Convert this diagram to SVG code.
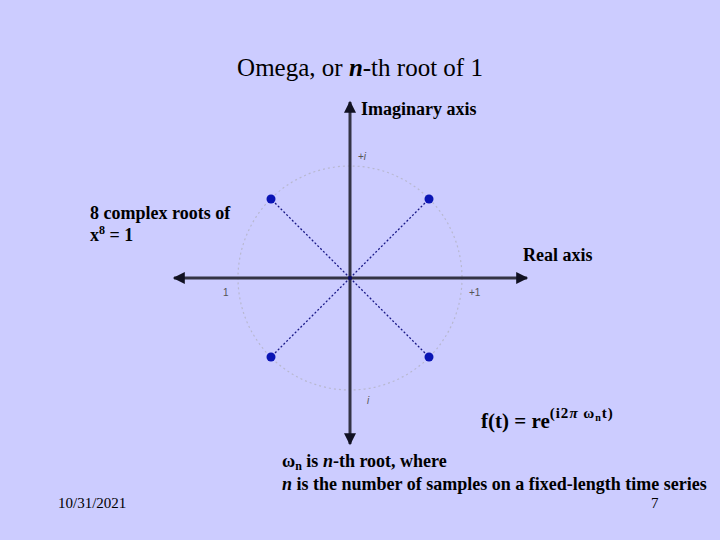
<svg xmlns="http://www.w3.org/2000/svg" width="720" height="540" viewBox="0 0 720 540">
<defs>
<style>
.b{font-family:"Liberation Serif","Times New Roman",serif;font-weight:bold;fill:#000}
.r{font-family:"Liberation Serif","Times New Roman",serif;fill:#000}
.s{font-family:"Liberation Sans",Arial,sans-serif;font-size:10px;fill:#555}
.ax{stroke:#333344;stroke-width:3;fill:none}
.dg{stroke:#1a1a88;stroke-width:1.3;stroke-dasharray:2 2;fill:none}
.dot{fill:#0a14b4}
</style>
<marker id="ah" viewBox="0 0 10 10" refX="9" refY="5" markerWidth="6" markerHeight="4" markerUnits="strokeWidth" orient="auto">
<path d="M0,0 L10,5 L0,10 z" fill="#111122"/>
</marker>
</defs>
<rect width="720" height="540" fill="#ccccff"/>
<text class="r" x="360" y="76" font-size="25" text-anchor="middle">Omega, or <tspan font-style="italic" font-weight="bold">n</tspan>-th root of 1</text>
<g id="circle"><circle cx="350" cy="278" r="112" fill="none" stroke="#b8b8d0" stroke-width="1.2" stroke-dasharray="2 3"/></g>
<g id="connectors">
<line class="ax" x1="350" y1="278" x2="527" y2="278" marker-end="url(#ah)"/>
<line class="ax" x1="350" y1="278" x2="174" y2="278" marker-end="url(#ah)"/>
<line class="ax" x1="350" y1="278" x2="350" y2="102" marker-end="url(#ah)"/>
<line class="ax" x1="350" y1="278" x2="350" y2="444" marker-end="url(#ah)"/>
<line class="dg" x1="350" y1="278" x2="429" y2="199"/>
<line class="dg" x1="350" y1="278" x2="271" y2="199"/>
<line class="dg" x1="350" y1="278" x2="271" y2="357"/>
<line class="dg" x1="350" y1="278" x2="429" y2="357"/>
</g>
<g id="roots">
<circle class="dot" cx="271" cy="199" r="4.5"/>
<circle class="dot" cx="429" cy="199" r="4.5"/>
<circle class="dot" cx="271" cy="357" r="4.5"/>
<circle class="dot" cx="429" cy="357" r="4.5"/>
<circle cx="350" cy="278" r="2" fill="#0a0a60"/>
</g>
<g id="ticks">
<text class="s" x="358" y="160">+<tspan font-style="italic">i</tspan></text>
<text class="s" x="223" y="296">1</text>
<text class="s" x="469" y="296">+1</text>
<text class="s" x="367" y="404" font-style="italic">i</text>
</g>
<g id="imag-label"><text class="b" x="361" y="115" font-size="18">Imaginary axis</text></g>
<g id="real-label"><text class="b" x="523" y="261" font-size="18">Real axis</text></g>
<g id="roots-label">
<text class="b" x="90" y="219" font-size="18">8 complex roots of</text>
<text class="b" x="90" y="241" font-size="18">x<tspan font-size="12" dy="-7">8</tspan><tspan dy="7"> = 1</tspan></text>
</g>
<g id="formula"><text class="b" x="481" y="428" font-size="21">f(t) = re<tspan font-size="15" dy="-10" letter-spacing="1">(i2<tspan font-style="italic">π</tspan> ω<tspan font-size="10" dy="3">n</tspan><tspan dy="-3">t)</tspan></tspan></text></g>
<g id="note">
<text class="b" x="282" y="467" font-size="18">ω<tspan font-size="12" dy="3">n</tspan><tspan dy="-3"> is </tspan><tspan font-style="italic">n</tspan>-th root, where</text>
<text class="b" x="282" y="490" font-size="18"><tspan font-style="italic">n</tspan> is the number of samples on a fixed-length time series</text>
</g>
<g id="footer">
<text class="r" x="58" y="508" font-size="15">10/31/2021</text>
<text class="r" x="651" y="508" font-size="15">7</text>
</g>
</svg>
